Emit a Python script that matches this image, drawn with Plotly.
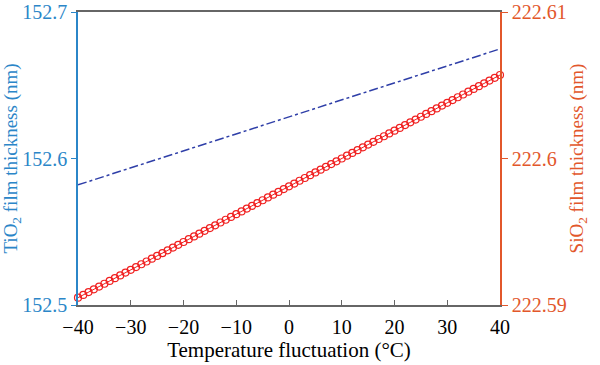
import plotly.graph_objects as go

temperature = list(range(-40, 41))

sio2_thickness = [
    222.59050, 222.59069, 222.59088, 222.59107, 222.59126, 222.59145, 222.59164, 222.59183, 222.59202, 222.59221,
    222.59240, 222.59259, 222.59278, 222.59297, 222.59316, 222.59335, 222.59354, 222.59373, 222.59392, 222.59411,
    222.59430, 222.59449, 222.59468, 222.59487, 222.59506, 222.59525, 222.59544, 222.59563, 222.59582, 222.59601,
    222.59620, 222.59639, 222.59658, 222.59677, 222.59696, 222.59715, 222.59734, 222.59753, 222.59772, 222.59791,
    222.59810, 222.59829, 222.59848, 222.59867, 222.59886, 222.59905, 222.59924, 222.59943, 222.59962, 222.59981,
    222.60000, 222.60019, 222.60038, 222.60057, 222.60076, 222.60095, 222.60114, 222.60133, 222.60152, 222.60171,
    222.60190, 222.60209, 222.60228, 222.60247, 222.60266, 222.60285, 222.60304, 222.60323, 222.60342, 222.60361,
    222.60380, 222.60399, 222.60418, 222.60437, 222.60456, 222.60475, 222.60494, 222.60513, 222.60532, 222.60551,
    222.60570,
]

tio2_temperature = [-40, -30, -20, -10, 0, 10, 20, 30, 40]
tio2_thickness = [152.5820, 152.5936, 152.6052, 152.6168, 152.6284, 152.6400, 152.6516, 152.6632, 152.6748]

x_ticks = [-40, -30, -20, -10, 0, 10, 20, 30, 40]
left_ticks = [152.5, 152.6, 152.7]
right_ticks = [222.59, 222.6, 222.61]
right_tick_text = ["222.59", "222.6", "222.61"]

BLUE = "#2b86c8"
ORANGE = "#e2572b"
FONT = "Liberation Serif"

fig = go.Figure()
fig.add_trace(go.Scatter(
    x=tio2_temperature, y=tio2_thickness, mode="lines",
    line=dict(color="#2f3fa8", width=1.5, dash="dashdot"),
    yaxis="y", cliponaxis=False, showlegend=False,
))
fig.add_trace(go.Scatter(
    x=temperature, y=sio2_thickness, mode="lines+markers",
    line=dict(color="#f02020", width=1),
    marker=dict(symbol="circle-open", size=7, color="#f02020", line=dict(width=1.2)),
    yaxis="y2", cliponaxis=False, showlegend=False,
))

fig.update_layout(
    width=600, height=365,
    margin=dict(l=78, r=100, t=12, b=60),
    paper_bgcolor="white", plot_bgcolor="white",
    font=dict(family=FONT, size=18, color="black"),
    xaxis=dict(
        range=[-40, 40], tickvals=x_ticks, showgrid=False, zeroline=False,
        showline=True, linecolor="#666666", linewidth=1.5, mirror=True,
        ticks="inside", ticklen=5, tickcolor="#666666", automargin=False,
        ticklabelstandoff=3,
        tickfont=dict(family=FONT, size=20, color="black"),
        title=dict(text="Temperature fluctuation (°C)", font=dict(family=FONT, size=21, color="black"), standoff=4),
    ),
    yaxis=dict(
        range=[152.5, 152.7], tickvals=left_ticks, tickformat=".1f", showgrid=False, zeroline=False,
        showline=True, linecolor=BLUE, linewidth=1.5, automargin=False,
        ticks="outside", ticklen=5, tickcolor=BLUE, ticklabeloverflow="allow",
        tickfont=dict(family=FONT, size=20, color=BLUE),
        title=dict(text="TiO<sub>2</sub> film thickness (nm)", font=dict(family=FONT, size=19, color=BLUE), standoff=2),
    ),
    yaxis2=dict(
        range=[222.59, 222.61], tickvals=right_ticks, ticktext=right_tick_text,
        overlaying="y", side="right", showgrid=False, zeroline=False,
        showline=True, linecolor=ORANGE, linewidth=1.5, automargin=False,
        ticks="outside", ticklen=6, tickcolor=ORANGE, ticklabeloverflow="allow",
        tickfont=dict(family=FONT, size=20, color=ORANGE),
        title=dict(text="SiO<sub>2</sub> film thickness (nm)", font=dict(family=FONT, size=19, color=ORANGE), standoff=4),
    ),
)

# Remove the browser's default 8px body margin so the figure fills the window exactly.
fig.write_html("out.html", config={"displayModeBar": False},
               post_script="document.body.style.margin='0px';")
